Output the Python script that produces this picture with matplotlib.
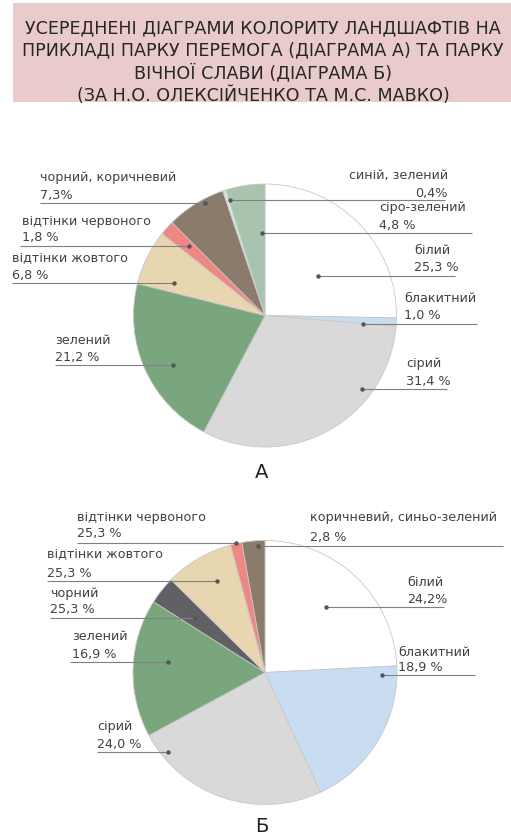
import matplotlib
matplotlib.use('Agg')
import matplotlib.pyplot as plt
from matplotlib.patches import Rectangle

W, H = 511, 838

# ---- data ----
title_lines = ['УСЕРЕДНЕНІ ДІАГРАМИ КОЛОРИТУ ЛАНДШАФТІВ НА',
               'ПРИКЛАДІ ПАРКУ ПЕРЕМОГА (ДІАГРАМА А) ТА ПАРКУ',
               'ВІЧНОЇ СЛАВИ (ДІАГРАМА Б)',
               '(ЗА Н.О. ОЛЕКСІЙЧЕНКО ТА М.С. МАВКО)']

labels_a = ['білий', 'блакитний', 'сірий', 'зелений', 'відтінки жовтого',
            'відтінки червоного', 'чорний, коричневий', 'синій, зелений', 'сіро-зелений']
values_a = [25.3, 1.0, 31.4, 21.2, 6.8, 1.8, 7.3, 0.4, 4.8]
pct_a = ['25,3 %', '1,0 %', '31,4 %', '21,2 %', '6,8 %', '1,8 %', '7,3%', '0,4%', '4,8 %']
colors_a = ['#ffffff', '#c9ddf2', '#d9d9d9', '#7aa67e', '#e8d6b0',
            '#ef8784', '#8b7b6a', '#d3e6df', '#a8c4ae']

labels_b = ['білий', 'блакитний', 'сірий', 'зелений', 'чорний',
            'відтінки жовтого', 'відтінки червоного', 'коричневий, синьо-зелений']
values_b = [24.2, 18.9, 24.0, 16.9, 3.4, 8.4, 1.4, 2.8]
pct_b = ['24,2%', '18,9 %', '24,0 %', '16,9 %', '25,3 %', '25,3 %', '25,3 %', '2,8 %']
colors_b = ['#ffffff', '#c9ddf2', '#d9d9d9', '#7aa67e', '#616065',
            '#e8d6b0', '#ef8784', '#8b7b6a']

# ---- layout (pixel positions, top-left origin) ----
# (text_x, ha, line1_y, line2_y, leader_y, leader_x0, leader_x1, dot_x)
layout_a = [
    (414, 'left', 250, 268, 276, 318, 455, 318),
    (404, 'left', 298, 316, 324, 363, 477, 363),
    (406, 'left', 363, 381, 389, 362, 447, 362),
    (55, 'left', 340, 358, 365, 55, 173, 173),
    (12, 'left', 259, 276, 283, 12, 174, 174),
    (22, 'left', 222, 237, 246, 20, 189, 189),
    (40, 'left', 178, 195, 203, 40, 205, 205),
    (448, 'right', 175, 193, 200, 230, 445, 230),
    (379, 'left', 208, 225, 233, 262, 472, 262),
]
layout_b = [
    (407, 'left', 583, 600, 607, 326, 444, 326),
    (398, 'left', 652, 667, 675, 382, 475, 382),
    (97, 'left', 726, 744, 752, 97, 168, 168),
    (72, 'left', 637, 654, 662, 70, 168, 168),
    (50, 'left', 593, 610, 618, 50, 195, 195),
    (47, 'left', 555, 573, 581, 47, 217, 217),
    (77, 'left', 517, 533, 543, 77, 236, 236),
    (310, 'left', 518, 537, 546, 258, 503, 258),
]

TXT = '#424242'
FONT = 'DejaVu Sans'

fig = plt.figure(figsize=(W / 100, H / 100), dpi=100)
ax = fig.add_axes([0, 0, 1, 1])


def Y(y):
    return H - y


def draw_pie(values, colors, cx, cy, r):
    ax.pie(values, colors=colors, startangle=90, counterclock=False,
           center=(cx, Y(cy)), radius=r,
           wedgeprops=dict(edgecolor='#c8c8c8', linewidth=0.6))


def draw_labels(labels, pcts, layout):
    for lab, pct, (tx, ha, y1, y2, ly, x0, x1, dx) in zip(labels, pcts, layout):
        ax.text(tx, Y(y1), lab, ha=ha, va='center', fontsize=9.2, color=TXT, family=FONT)
        ax.text(tx, Y(y2), pct, ha=ha, va='center', fontsize=9.2, color=TXT, family=FONT)
        ax.plot([x0, x1], [Y(ly), Y(ly)], color='#808080', lw=0.8, solid_capstyle='butt')
        ax.plot([dx], [Y(ly)], 'o', color='#555555', ms=2.2)


draw_pie(values_a, colors_a, 265, 315.5, 131.5)
draw_pie(values_b, colors_b, 265, 672.5, 132)
draw_labels(labels_a, pct_a, layout_a)
draw_labels(labels_b, pct_b, layout_b)

# title box
ax.add_patch(Rectangle((13, Y(102)), W, 99, facecolor='#e9cbcb', edgecolor='none', zorder=0))
for i, line in enumerate(title_lines):
    ax.text(263, Y(28 + i * 22.5), line, ha='center', va='center', fontsize=12.6,
            color='#262626', family=FONT)

ax.text(262, Y(472), 'А', ha='center', va='center', fontsize=14, color='#222222', family=FONT)
ax.text(262, Y(826), 'Б', ha='center', va='center', fontsize=14, color='#222222', family=FONT)

ax.set_xlim(0, W)
ax.set_ylim(0, H)
ax.set_aspect('auto')
ax.axis('off')

fig.savefig('out.png', dpi=100, facecolor='white')
